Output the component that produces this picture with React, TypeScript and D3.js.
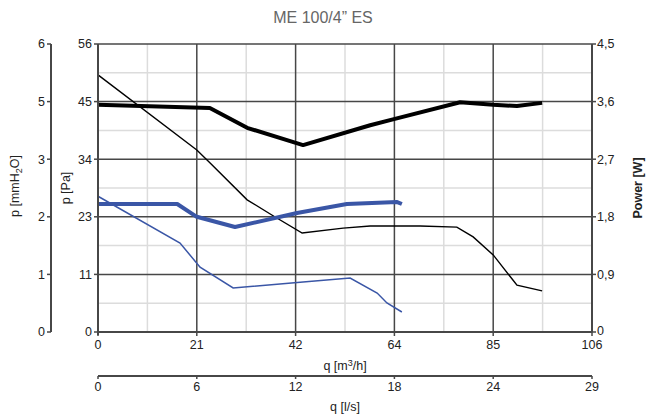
import React from "react";
import * as d3 from "d3";

const qTickLabels = ["0", "21", "42", "64", "85", "106"];
const lsTickLabels = ["0", "6", "12", "18", "24", "29"];
const paTickLabels = ["0", "11", "23", "34", "45", "56"];
const mmTickLabels = ["0", "1", "2", "3", "5", "6"];
const powerTickLabels = ["0", "0,9", "1,8", "2,7", "3,6", "4,5"];

// High speed pressure [Pa]
const pHighQ = [0, 21.2, 24.0, 32.0, 37.3, 43.8, 52.6, 58.4, 69.1, 77.0, 80.5, 84.8, 89.9, 95.3];
const pHighV = [50.0, 35.4, 32.9, 25.7, 22.75, 19.25, 20.2, 20.6, 20.6, 20.4, 18.5, 15.0, 9.1, 8.0];
// High speed power [W]
const wHighQ = [0, 24.0, 32.0, 44.0, 58.4, 63.7, 77.7, 84.8, 89.9, 95.3];
const wHighV = [3.55, 3.5, 3.19, 2.92, 3.23, 3.33, 3.59, 3.55, 3.53, 3.58];
// Low speed power [W]
const wLowQ = [0, 17.0, 21.2, 29.4, 42.7, 53.4, 64.2, 65.2];
const wLowV = [2.0, 2.0, 1.8, 1.64, 1.86, 2.0, 2.03, 2.0];
// Low speed pressure [Pa]
const pLowQ = [0, 17.6, 21.9, 29.0, 44.0, 54.1, 59.9, 62.0, 65.2];
const pLowV = [26.4, 17.3, 12.6, 8.56, 9.72, 10.5, 7.58, 5.64, 3.89];

const FONT = "'Liberation Sans', Arial, sans-serif";
const DARK = "#474747";
const LIGHT = "#dcdcdc";
const BLUE = "#3a56a6";

export default function App() {
  const W = 646, H = 418;
  const x0 = 98, x1 = 592, yTop = 44, yBot = 332;
  const x = d3.scaleLinear().domain([0, 106]).range([x0, x1]);
  const yPa = d3.scaleLinear().domain([0, 56]).range([yBot, yTop]);
  const yW = d3.scaleLinear().domain([0, 4.5]).range([yBot, yTop]);
  const xTicks = d3.range(6).map((i) => (i * 106) / 5);
  const xMinor = d3.range(5).map((i) => ((i + 0.5) * 106) / 5);
  const yTicks = d3.range(6).map((i) => (i * 56) / 5);
  const yMinor = d3.range(5).map((i) => ((i + 0.5) * 56) / 5);

  const pairs = (qs: number[], vs: number[]) => qs.map((q, i) => [q, vs[i]] as [number, number]);
  const linePa = d3.line<[number, number]>().x((d) => x(d[0])).y((d) => yPa(d[1]));
  const lineW = d3.line<[number, number]>().x((d) => x(d[0])).y((d) => yW(d[1]));

  const tickStyle = { fontFamily: FONT, fontSize: 12.5, fill: "#222" } as const;

  return (
    <svg width={W} height={H} style={{ position: "absolute", left: 0, top: 0 }}>
      <rect width={W} height={H} fill="#fff" />
      <text x={323} y={23} textAnchor="middle" fontFamily={FONT} fontSize={16} fill="#666">
        ME 100/4{"\u201D"} ES
      </text>

      {/* minor grid */}
      {xMinor.map((v, i) => (
        <line key={"xm" + i} x1={x(v)} x2={x(v)} y1={yTop} y2={yBot} stroke={LIGHT} strokeWidth={1.5} />
      ))}
      {yMinor.map((v, i) => (
        <line key={"ym" + i} x1={x0} x2={x1} y1={yPa(v)} y2={yPa(v)} stroke={LIGHT} strokeWidth={1.5} />
      ))}
      {/* major grid */}
      {xTicks.slice(1, 5).map((v, i) => (
        <line key={"xg" + i} x1={x(v)} x2={x(v)} y1={yTop} y2={yBot} stroke={DARK} strokeWidth={1.5} />
      ))}
      {yTicks.slice(1).map((v, i) => (
        <line key={"yg" + i} x1={x0} x2={x1} y1={yPa(v)} y2={yPa(v)} stroke={DARK} strokeWidth={1.5} />
      ))}

      {/* curves */}
      <path d={linePa(pairs(pHighQ, pHighV)) || ""} fill="none" stroke="#000" strokeWidth={1.4} />
      <path d={linePa(pairs(pLowQ, pLowV)) || ""} fill="none" stroke={BLUE} strokeWidth={1.5} />
      <path d={lineW(pairs(wLowQ, wLowV)) || ""} fill="none" stroke={BLUE} strokeWidth={4} strokeLinejoin="round" />
      <path d={lineW(pairs(wHighQ, wHighV)) || ""} fill="none" stroke="#000" strokeWidth={4} strokeLinejoin="round" />

      {/* Pa axis */}
      <line x1={x0} x2={x0} y1={yTop} y2={yBot + 3} stroke={DARK} strokeWidth={2} />
      {yTicks.map((v, i) => (
        <g key={"pa" + i}>
          <line x1={x0 - 4} x2={x0} y1={yPa(v)} y2={yPa(v)} stroke={DARK} strokeWidth={1.5} />
          <text x={x0 - 6} y={yPa(v)} dy="0.35em" textAnchor="end" {...tickStyle}>
            {paTickLabels[i]}
          </text>
        </g>
      ))}
      <text transform={`translate(70,188) rotate(-90)`} textAnchor="middle" {...tickStyle}>
        p [Pa]
      </text>

      {/* mmH2O axis */}
      <line x1={51} x2={51} y1={yTop} y2={yBot} stroke={DARK} strokeWidth={2} />
      {yTicks.map((v, i) => (
        <g key={"mm" + i}>
          <line x1={47} x2={51} y1={yPa(v)} y2={yPa(v)} stroke={DARK} strokeWidth={1.5} />
          <text x={45} y={yPa(v)} dy="0.35em" textAnchor="end" {...tickStyle}>
            {mmTickLabels[i]}
          </text>
        </g>
      ))}
      <text transform={`translate(19,186) rotate(-90)`} textAnchor="middle" {...tickStyle}>
        p [mmH
        <tspan fontSize={9} dy={3}>2</tspan>
        <tspan dy={-3}>O]</tspan>
      </text>

      {/* Power axis */}
      <line x1={x1} x2={x1} y1={yTop} y2={yBot} stroke={DARK} strokeWidth={2} />
      {yTicks.map((v, i) => (
        <g key={"w" + i}>
          <line x1={x1} x2={x1 + 4} y1={yPa(v)} y2={yPa(v)} stroke={DARK} strokeWidth={1.5} />
          <text x={x1 + 5} y={yPa(v) - (i === 0 ? 1 : 0)} dy="0.35em" textAnchor="start" {...tickStyle}>
            {powerTickLabels[i]}
          </text>
        </g>
      ))}
      <text transform={`translate(642,188) rotate(-90)`} textAnchor="middle" {...tickStyle} fontWeight="bold">
        Power [W]
      </text>

      {/* q m3/h axis */}
      <line x1={x0} x2={x1} y1={yBot} y2={yBot} stroke={DARK} strokeWidth={2} />
      {xTicks.map((v, i) => (
        <g key={"q" + i}>
          <line x1={x(v)} x2={x(v)} y1={yBot} y2={yBot + 4} stroke={DARK} strokeWidth={1.5} />
          <text x={x(v)} y={345} dy="0.35em" textAnchor="middle" {...tickStyle}>
            {qTickLabels[i]}
          </text>
        </g>
      ))}
      <text x={345} y={366} dy="0.35em" textAnchor="middle" {...tickStyle}>
        q [m
        <tspan fontSize={9} dy={-4}>3</tspan>
        <tspan dy={4}>/h]</tspan>
      </text>

      {/* q l/s axis */}
      <line x1={x0} x2={x1} y1={376} y2={376} stroke={DARK} strokeWidth={2} />
      {xTicks.map((v, i) => (
        <g key={"ls" + i}>
          <line x1={x(v)} x2={x(v)} y1={376} y2={379} stroke={DARK} strokeWidth={1.5} />
          <text x={x(v)} y={387} dy="0.35em" textAnchor="middle" {...tickStyle}>
            {lsTickLabels[i]}
          </text>
        </g>
      ))}
      <text x={345} y={407} dy="0.35em" textAnchor="middle" {...tickStyle}>
        q [l/s]
      </text>
    </svg>
  );
}
